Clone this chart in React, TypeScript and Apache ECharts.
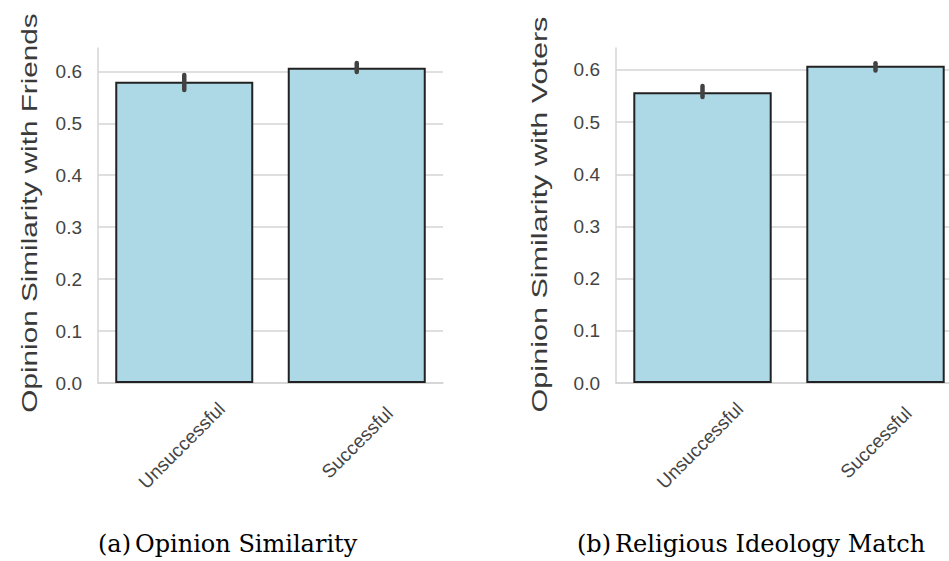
import React, { useEffect, useRef } from "react";
import * as echarts from "echarts";

// ---- data ----
const categories = ["Unsuccessful", "Successful"];

const friendsMean = [0.58, 0.607];
const friendsLow = [0.564, 0.599];
const friendsHigh = [0.593, 0.616];

const votersMean = [0.557, 0.608];
const votersLow = [0.548, 0.599];
const votersHigh = [0.569, 0.613];

const yMaxFriends = 0.645;
const yMaxVoters = 0.642;
const yInterval = 0.1;

const yTitles = ["Opinion Similarity with Friends", "Opinion Similarity with Voters"];
const captionTags = ["(a)", "(b)"];
const captionTexts = ["Opinion Similarity", "Religious Ideology Match"];

const GRID_LINE = "#d4d4d4";
const TEXT = "#444";

function errData(lo: number[], hi: number[]) {
  return lo.map((l, i) => [i, l, hi[i]]);
}

function renderErr(params: any, api: any) {
  const x = api.value(0);
  const p1 = api.coord([x, api.value(1)]);
  const p2 = api.coord([x, api.value(2)]);
  return {
    type: "line",
    shape: { x1: p1[0], y1: p1[1], x2: p2[0], y2: p2[1] },
    style: { stroke: "#424242", lineWidth: 4.5, lineCap: "round" },
  };
}

const labelPads = [
  [3, 7, 0, 0],
  [0, 0, 7, 1.4],
];

function makeXAxis(gridIndex: number) {
  return {
    type: "category",
    gridIndex,
    data: categories.map((c, i) => ({
      value: c,
      textStyle: { padding: labelPads[i], align: "center", verticalAlign: "middle" },
    })),
    axisTick: { show: false },
    axisLine: { show: true, lineStyle: { color: GRID_LINE, width: 1.5 } },
    axisLabel: {
      rotate: 45,
      align: "center",
      verticalAlign: "middle",
      margin: 60,
      fontSize: 19,
      fontFamily: "Liberation Sans, Arial, sans-serif",
      color: TEXT,
      interval: 0,
    },
    splitLine: { show: false },
  };
}

function makeYAxis(gridIndex: number, max: number) {
  return {
    type: "value",
    gridIndex,
    min: 0,
    max,
    interval: yInterval,
    axisTick: { show: false },
    axisLine: { show: true, lineStyle: { color: GRID_LINE, width: 1.5 } },
    axisLabel: {
      margin: 16,
      fontSize: 19,
      fontFamily: "Liberation Sans, Arial, sans-serif",
      color: TEXT,
      showMaxLabel: false,
      formatter: (v: number) => v.toFixed(1),
    },
    splitLine: {
      show: true,
      showMaxLine: false,
      lineStyle: { color: GRID_LINE, width: 1.5 },
    },
  };
}

export default function App() {
  const ref = useRef<HTMLDivElement>(null);

  useEffect(() => {
    if (!ref.current) return;
    const chart = echarts.init(ref.current, undefined, { renderer: "svg" });

    const titleFont = "22px 'Liberation Sans', Arial, sans-serif";
    const captionFont = "24px 'DejaVu Serif', serif";

    const capStyle = (text: string) => ({
      text,
      font: captionFont,
      fill: "#000",
      align: "left",
      verticalAlign: "middle",
      textAlign: "left",
      textVerticalAlign: "middle",
    });

    const option: any = {
      animation: false,
      backgroundColor: "#ffffff",
      grid: [
        { left: 98, top: 48, width: 345, height: 335, outerBoundsMode: "none", containLabel: false },
        { left: 616, top: 48, width: 346, height: 335, outerBoundsMode: "none", containLabel: false },
      ],
      xAxis: [makeXAxis(0), makeXAxis(1)],
      yAxis: [makeYAxis(0, yMaxFriends), makeYAxis(1, yMaxVoters)],
      series: [
        {
          type: "bar",
          xAxisIndex: 0,
          yAxisIndex: 0,
          data: friendsMean,
          barCategoryGap: "20%",
          itemStyle: { color: "#add8e6", borderColor: "#222", borderWidth: 2 },
          z: 2,
        },
        {
          type: "custom",
          xAxisIndex: 0,
          yAxisIndex: 0,
          data: errData(friendsLow, friendsHigh),
          encode: { x: 0, y: [1, 2] },
          renderItem: renderErr,
          z: 10,
        },
        {
          type: "bar",
          xAxisIndex: 1,
          yAxisIndex: 1,
          data: votersMean,
          barCategoryGap: "20%",
          itemStyle: { color: "#add8e6", borderColor: "#222", borderWidth: 2 },
          z: 2,
        },
        {
          type: "custom",
          xAxisIndex: 1,
          yAxisIndex: 1,
          data: errData(votersLow, votersHigh),
          encode: { x: 0, y: [1, 2] },
          renderItem: renderErr,
          z: 10,
        },
      ],
      graphic: [
        {
          type: "text",
          x: 29.5,
          y: 213,
          rotation: Math.PI / 2,
          scaleX: 1.35,
          style: {
            text: yTitles[0],
            font: titleFont,
            fill: "#3a3a3a",
            align: "center",
            verticalAlign: "middle",
            textAlign: "center",
            textVerticalAlign: "middle",
          },
        },
        {
          type: "text",
          x: 539.5,
          y: 214.5,
          rotation: Math.PI / 2,
          scaleX: 1.39,
          style: {
            text: yTitles[1],
            font: titleFont,
            fill: "#3a3a3a",
            align: "center",
            verticalAlign: "middle",
            textAlign: "center",
            textVerticalAlign: "middle",
          },
        },
        { type: "text", x: 98, y: 544, style: capStyle(captionTags[0]) },
        { type: "text", x: 135, y: 544, style: capStyle(captionTexts[0]) },
        { type: "text", x: 577, y: 544, style: capStyle(captionTags[1]) },
        { type: "text", x: 615, y: 544, style: capStyle(captionTexts[1]) },
      ],
    };

    chart.setOption(option);
    return () => chart.dispose();
  }, []);

  return (
    <div
      ref={ref}
      style={{ position: "fixed", left: 0, top: 0, width: 949, height: 561, background: "#fff" }}
    />
  );
}
